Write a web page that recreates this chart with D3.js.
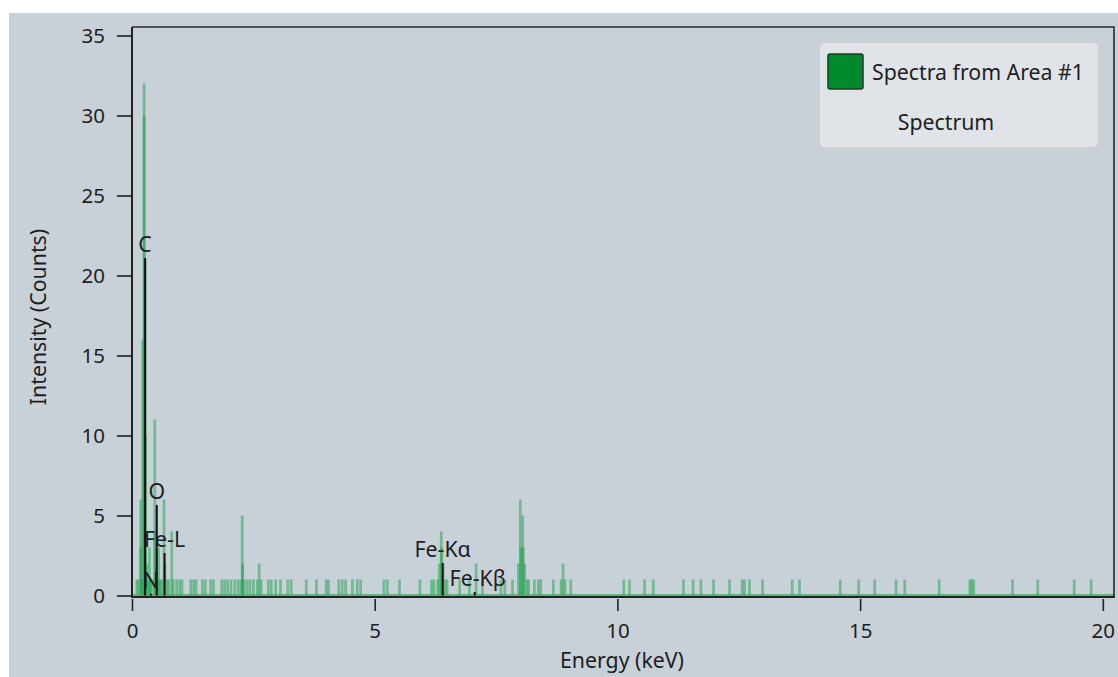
<!DOCTYPE html>
<html>
<head>
<meta charset="utf-8">
<script src="https://cdn.jsdelivr.net/npm/d3@7/dist/d3.min.js"></script>
<style>
  body { margin: 0; background: #ffffff; }
  svg text { font-family: "Noto Sans", "Open Sans", sans-serif; fill: #1e1e1e; }
</style>
</head>
<body>
<svg id="chart" width="1118" height="677"></svg>
<script>
// EDS spectrum: non-empty channels (energy in keV, counts)
const energies = [
  0.10, 0.13, 0.18, 0.18, 0.20, 0.22, 0.25, 0.25, 0.27, 0.28,
  0.31, 0.34, 0.36, 0.38, 0.41, 0.47, 0.47, 0.50, 0.53, 0.55,
  0.58, 0.61, 0.66, 0.68, 0.72, 0.76, 0.82, 0.85, 0.92, 0.98,
  1.03, 1.21, 1.27, 1.32, 1.45, 1.51, 1.62, 1.68, 1.85, 1.91,
  1.97, 2.04, 2.12, 2.19, 2.25, 2.27, 2.28, 2.31, 2.37, 2.43,
  2.50, 2.58, 2.62, 2.66, 2.81, 2.87, 2.96, 3.06, 3.21, 3.28,
  3.59, 3.80, 4.00, 4.05, 4.26, 4.33, 4.40, 4.54, 4.64, 4.71,
  5.19, 5.26, 5.51, 5.93, 6.17, 6.22, 6.30, 6.33, 6.37, 6.38,
  6.41, 6.45, 6.49, 6.75, 6.95, 7.09, 7.22, 7.60, 7.68, 7.84,
  7.96, 8.00, 8.01, 8.05, 8.06, 8.09, 8.14, 8.17, 8.29, 8.37,
  8.42, 8.68, 8.84, 8.88, 8.92, 9.04, 10.13, 10.25, 10.56, 10.74,
  11.36, 11.56, 11.72, 11.98, 12.31, 12.57, 12.62, 12.72, 12.99, 13.60,
  13.75, 14.59, 14.97, 15.30, 15.74, 15.92, 16.63, 17.26, 17.30, 17.34,
  18.14, 18.66, 19.41, 19.76
];
const counts = [
  1, 1, 6, 3, 1, 16, 32, 30, 21, 10,
  2, 1, 3, 1, 1, 11, 4, 2, 1, 3,
  1, 1, 6, 2, 1, 1, 4, 1, 1, 1,
  1, 1, 1, 1, 1, 1, 1, 1, 1, 1,
  1, 1, 1, 1, 1, 5, 2, 1, 1, 1,
  1, 1, 2, 1, 1, 1, 1, 1, 1, 1,
  1, 1, 1, 1, 1, 1, 1, 1, 1, 1,
  1, 1, 1, 1, 1, 1, 1, 2, 4, 3,
  2, 1, 1, 1, 1, 2, 1, 1, 1, 1,
  2, 6, 3, 5, 3, 2, 1, 1, 1, 1,
  1, 1, 1, 2, 1, 1, 1, 1, 1, 1,
  1, 1, 1, 1, 1, 1, 1, 1, 1, 1,
  1, 1, 1, 1, 1, 1, 1, 1, 1, 1,
  1, 1, 1, 1
];

// Element markers (KLM lines)
const markerLabels   = ["C", "N", "O", "Fe-L", "Fe-K\u03b1", "Fe-K\u03b2"];
const markerEnergies = [0.27, 0.39, 0.51, 0.67, 6.40, 7.06];
const markerHeights  = [21.1, 0.1, 5.66, 2.66, 2.03, 0.22];

// Axis ticks
const xTicks = [0, 5, 10, 15, 20];
const yTicks = [0, 5, 10, 15, 20, 25, 30, 35];

const legendSeries = "Spectra from Area #1";
const legendTitle = "Spectrum";

const svg = d3.select("#chart");
const W = 1118, H = 677;
const plot = { left: 132, right: 1114, top: 27, bottom: 597 };
const labelSize = 21.3;

// Background panel
svg.append("rect")
  .attr("x", 9).attr("y", 13)
  .attr("width", W - 9).attr("height", H - 13)
  .attr("fill", "#c8d0d8");

const x = d3.scaleLinear().domain([0, 20.23]).range([plot.left, plot.right]);
const y = d3.scaleLinear().domain([-0.094, 35.53]).range([plot.bottom, plot.top]);

const spectrum = energies.map((e, i) => ({ e, c: counts[i] }));

// Spectrum channels as translucent bars
const barW = 2.7;
svg.append("g").selectAll("rect")
  .data(spectrum)
  .join("rect")
  .attr("x", d => x(d.e) - barW / 2)
  .attr("width", barW)
  .attr("y", d => y(d.c))
  .attr("height", d => y(0) - y(d.c))
  .attr("fill", "#12a044")
  .attr("fill-opacity", 0.48);

// Zero-count baseline of the spectrum
svg.append("line")
  .attr("x1", x(0)).attr("x2", plot.right)
  .attr("y1", y(0) - 0.5).attr("y2", y(0) - 0.5)
  .attr("stroke", "#3fae62").attr("stroke-width", 1.6);

// Marker lines
const markers = markerLabels.map((l, i) => ({ l, e: markerEnergies[i], h: markerHeights[i] }));
const mg = svg.append("g");
mg.selectAll("line")
  .data(markers)
  .join("line")
  .attr("x1", d => x(d.e)).attr("x2", d => x(d.e))
  .attr("y1", y(0)).attr("y2", d => y(d.h))
  .attr("stroke", "#111").attr("stroke-width", 2);
mg.selectAll("text")
  .data(markers)
  .join("text")
  .attr("x", d => x(d.e) + (d.l === "Fe-K\u03b2" ? 3 : 0))
  .attr("y", d => y(d.h) - 6)
  .attr("text-anchor", "middle")
  .attr("font-size", labelSize)
  .text(d => d.l);

// Plot frame: top and right edges
svg.append("path")
  .attr("d", `M${plot.left},${plot.top}H${plot.right}V${plot.bottom}`)
  .attr("fill", "none").attr("stroke", "#2a2a2a").attr("stroke-width", 1.6);

// Axis lines
svg.append("line")
  .attr("x1", plot.left).attr("x2", plot.left)
  .attr("y1", plot.top).attr("y2", plot.bottom + 1)
  .attr("stroke", "#222").attr("stroke-width", 2);
svg.append("line")
  .attr("x1", plot.left - 1).attr("x2", plot.right + 1)
  .attr("y1", plot.bottom).attr("y2", plot.bottom)
  .attr("stroke", "#222").attr("stroke-width", 2);

// Y axis ticks
const yAxis = svg.append("g")
  .attr("transform", `translate(${plot.left - 1},0)`)
  .call(d3.axisLeft(y).tickValues(yTicks).tickSize(14).tickPadding(12));
yAxis.select(".domain").remove();
yAxis.selectAll(".tick line").attr("stroke", "#222").attr("stroke-width", 1.6);
yAxis.selectAll(".tick text").attr("font-size", 20.5).attr("fill", "#1e1e1e")
  .attr("font-family", "Noto Sans, sans-serif");

// X axis ticks
const xAxis = svg.append("g")
  .attr("transform", `translate(0,${plot.bottom + 2})`)
  .call(d3.axisBottom(x).tickValues(xTicks).tickSize(12).tickPadding(12));
xAxis.select(".domain").remove();
xAxis.selectAll(".tick line").attr("stroke", "#222").attr("stroke-width", 1.6);
xAxis.selectAll(".tick text").attr("font-size", 20.5).attr("fill", "#1e1e1e")
  .attr("font-family", "Noto Sans, sans-serif");

// Axis titles
svg.append("text")
  .attr("x", 622).attr("y", 668)
  .attr("text-anchor", "middle")
  .attr("font-size", labelSize)
  .text("Energy (keV)");
svg.append("text")
  .attr("transform", "translate(46,317) rotate(-90)")
  .attr("text-anchor", "middle")
  .attr("font-size", labelSize)
  .text("Intensity (Counts)");

// Legend
const lg = svg.append("g");
lg.append("rect")
  .attr("x", 820).attr("y", 43).attr("width", 278).attr("height", 104)
  .attr("rx", 5).attr("fill", "#e0e4e9");
lg.append("rect")
  .attr("x", 828).attr("y", 54).attr("width", 35).attr("height", 35)
  .attr("rx", 2).attr("fill", "#008a2e")
  .attr("stroke", "#1b3d22").attr("stroke-width", 1.5);
lg.append("text")
  .attr("x", 872).attr("y", 80)
  .attr("font-size", labelSize)
  .text(legendSeries);
lg.append("text")
  .attr("x", 946).attr("y", 130)
  .attr("text-anchor", "middle")
  .attr("font-size", labelSize)
  .text(legendTitle);
</script>
</body>
</html>
